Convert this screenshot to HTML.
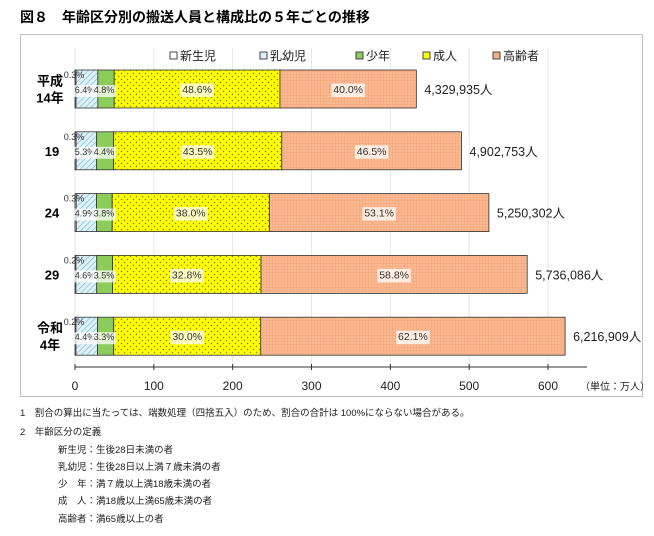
<!DOCTYPE html>
<html><head><meta charset="utf-8"><style>
body{margin:0;background:#fff;width:654px;height:536px;overflow:hidden;font-family:"Liberation Sans","Noto Sans CJK JP",sans-serif;}
svg{display:block}
</style></head><body>
<svg id="chart" width="654" height="536" xmlns="http://www.w3.org/2000/svg" font-family="'Liberation Sans','Noto Sans CJK JP',sans-serif">
<defs>
<pattern id="hatch" width="4" height="4" patternUnits="userSpaceOnUse" patternTransform="rotate(45)"><rect width="4" height="4" fill="#dff1f8"/><line x1="0" y1="0" x2="0" y2="4" stroke="#6fb3d2" stroke-width="1.2"/></pattern>
<pattern id="ydots" width="6" height="6" patternUnits="userSpaceOnUse"><rect width="6" height="6" fill="#ffff00"/><circle cx="1.5" cy="1.5" r="0.7" fill="#7a7a20"/><circle cx="4.5" cy="4.5" r="0.7" fill="#7a7a20"/></pattern>
<pattern id="odots" width="3" height="3" patternUnits="userSpaceOnUse"><rect width="3" height="3" fill="#f6ae82"/><circle cx="1" cy="1" r="0.6" fill="#fbd7bf"/></pattern>
</defs>
<text x="20" y="22" font-size="14" font-weight="bold" fill="#000">図８　年齢区分別の搬送人員と構成比の５年ごとの推移</text>
<rect x="20.5" y="34.5" width="622" height="362" fill="#fff" stroke="#bfbfbf"/>
<g id="grid"></g>
<g id="legend"></g>
<g id="bars"></g>
<g id="labels"></g>
<g id="axis"></g>
<g font-size="9.5" fill="#222">
<text x="20" y="416">1　割合の算出に当たっては、端数処理（四捨五入）のため、割合の合計は 100%にならない場合がある。</text>
<text x="20" y="435">2　年齢区分の定義</text>
<text x="58" y="453">新生児：生後28日未満の者</text>
<text x="58" y="470">乳幼児：生後28日以上満７歳未満の者</text>
<text x="58" y="487">少　年：満７歳以上満18歳未満の者</text>
<text x="58" y="504">成　人：満18歳以上満65歳未満の者</text>
<text x="58" y="522">高齢者：満65歳以上の者</text>
</g>
</svg>
<script>
const categories = ["平成\n14年","19","24","29","令和\n4年"];
const totals = [4329935, 4902753, 5250302, 5736086, 6216909];
const newborn = [0.3, 0.3, 0.3, 0.2, 0.2];
const infant = [6.4, 5.3, 4.9, 4.6, 4.4];
const youth = [4.8, 4.4, 3.8, 3.5, 3.3];
const adult = [48.6, 43.5, 38.0, 32.8, 30.0];
const elderly = [40.0, 46.5, 53.1, 58.8, 62.1];
const ticks = [0,100,200,300,400,500,600];
const seriesNames = ["新生児","乳幼児","少年","成人","高齢者"];

const NS="http://www.w3.org/2000/svg";
const x0=75, pxPer=473/600;
const xs=v=>x0+v*pxPer;
const rowTop=i=>70+i*61.8;
const barH=38;
function mk(tag,attrs,parent){const e=document.createElementNS(NS,tag);for(const k in attrs)e.setAttribute(k,attrs[k]);parent.appendChild(e);return e;}
const grid=document.getElementById('grid'), bars=document.getElementById('bars'), labels=document.getElementById('labels'), axis=document.getElementById('axis'), legend=document.getElementById('legend');
ticks.forEach(t=>{
  const l=mk('line',{x1:xs(t),x2:xs(t),y1:48,y2:367,stroke:'#e6e6e6'},grid);
  
  
  const tk=mk('line',{x1:xs(t),x2:xs(t),y1:364,y2:370,stroke:'#333'},axis);
  
  
  const tx=mk('text',{x:xs(t),y:390,'font-size':12,'text-anchor':'middle',fill:'#222'},axis);
  tx.textContent=t;
  
  
});
const al=mk('line',{x1:75,x2:587,y1:367,y2:367,stroke:'#333','stroke-width':1},axis);


const un=mk('text',{x:580,y:390,'font-size':10,fill:'#222'},axis);
un.textContent='（単位：万人）';



const fills=['#ffffff','url(#hatch)','#8ccc5a','url(#ydots)','url(#odots)'];
const lfills=['#fff','#dff1f8','#8ccc5a','#ffff00','#f6ae82'];
const lx=[170,260,356,423,493];
seriesNames.forEach((n,j)=>{
  const r=mk('rect',{x:lx[j],y:52,width:7,height:7,fill:lfills[j],stroke:'#444','stroke-width':1},legend);
  
  
  const t=mk('text',{x:lx[j]+10,y:60,'font-size':12,fill:'#222'},legend);
  t.textContent=n;
  
  
});

categories.forEach((c,i)=>{
  const total=totals[i]/10000;
  const pcts=[newborn[i],infant[i],youth[i],adult[i],elderly[i]];
  const sum=pcts.reduce((a,b)=>a+b,0);
  let acc=0;
  const y=rowTop(i);
  pcts.forEach((p,j)=>{
    const xa=xs(total*acc/sum), xb=xs(total*(acc+p)/sum);
    const r=mk('rect',{x:xa,y:y,width:Math.max(0,xb-xa),height:barH,fill:fills[j],stroke:'#333','stroke-width':0.8},bars);
    
    
    const mid=(xa+xb)/2;
    const txt=p.toFixed(1)+'%';
    let lxp=mid, ly=y+barH/2+4, fs=10.5;
    if(j===0){lxp=74;ly=y+8;fs=9;}
    if(j===1){lxp=85;fs=9;}
    if(j===2){lxp=104;fs=9;}
    const w=txt.length*(fs*0.56)+4;
    if(j>=1){
      const bg=mk('rect',{x:lxp-w/2,y:ly-fs+1,width:w,height:fs+3,fill:'#fff','fill-opacity':0.75},labels);
      
      
    }
    const t=mk('text',{x:lxp,y:ly,'font-size':fs,'text-anchor':'middle',fill:'#333'},labels);
    t.textContent=txt;
    
    
    acc+=p;
  });
  const tt=mk('text',{x:xs(total)+8,y:y+barH/2+5,'font-size':12.5,fill:'#222'},labels);
  tt.textContent=totals[i].toLocaleString('en-US')+'人';
  
  
  const lines=c.split('\n');
  lines.forEach((ln,k)=>{
    const ct=mk('text',{x:lines.length>1?50:52,y:y+barH/2+5+(lines.length>1?(k-0.5)*17:0),'font-size':13,'font-weight':'bold','text-anchor':'middle',fill:'#000'},labels);
    ct.textContent=ln;
    
    
  });
});
</script>
</body></html>
